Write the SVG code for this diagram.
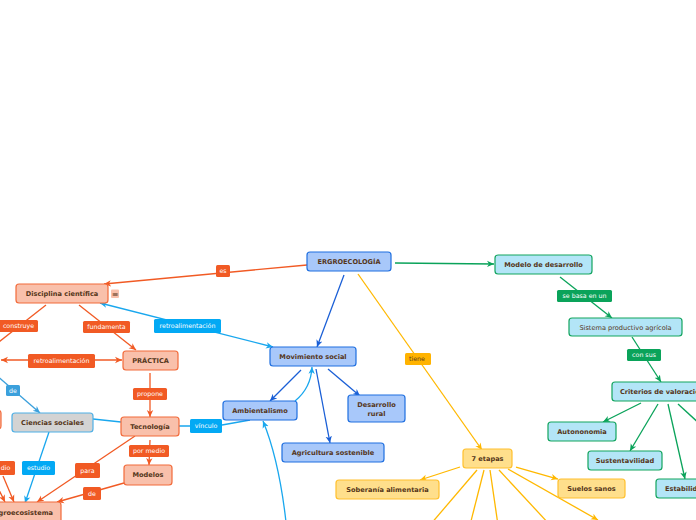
<svg xmlns="http://www.w3.org/2000/svg" width="696" height="520" viewBox="0 0 696 520">
<style>
.n{stroke-width:1.2}
.nt{font-family:"DejaVu Sans",Verdana,sans-serif;font-size:6.6px;font-weight:bold;fill:#55361a;text-anchor:middle}
.lt{font-family:"DejaVu Sans",Verdana,sans-serif;font-size:6.3px;fill:#fff;text-anchor:middle}
.blue{fill:#a8c8fa;stroke:#1f6fe0}
.sal{fill:#f9c0ab;stroke:#f26a3a}
.cyanN{fill:#b3e5f7;stroke:#13a55f}
.yel{fill:#ffdf8c;stroke:#ffc02e}
.gray{fill:#d3d3d3;stroke:#4fb0e6}
.c{fill:none;stroke-width:1.3}
.co{stroke:#f15a24}
.cb{stroke:#1a5fd6}
.cc{stroke:#19a7ee}
.cg{stroke:#0aa35a}
.cy{stroke:#ffb800}
</style>
<defs>
<marker id="ao" markerUnits="userSpaceOnUse" markerWidth="8" markerHeight="8" refX="7" refY="4" orient="auto-start-reverse"><path d="M0,0.8 L7,4 L0,7.2 L2,4 Z" fill="#f15a24"/></marker>
<marker id="ab" markerUnits="userSpaceOnUse" markerWidth="8" markerHeight="8" refX="7" refY="4" orient="auto-start-reverse"><path d="M0,0.8 L7,4 L0,7.2 L2,4 Z" fill="#1a5fd6"/></marker>
<marker id="ac" markerUnits="userSpaceOnUse" markerWidth="8" markerHeight="8" refX="7" refY="4" orient="auto-start-reverse"><path d="M0,0.8 L7,4 L0,7.2 L2,4 Z" fill="#19a7ee"/></marker>
<marker id="ag" markerUnits="userSpaceOnUse" markerWidth="8" markerHeight="8" refX="7" refY="4" orient="auto-start-reverse"><path d="M0,0.8 L7,4 L0,7.2 L2,4 Z" fill="#0aa35a"/></marker>
<marker id="ay" markerUnits="userSpaceOnUse" markerWidth="8" markerHeight="8" refX="7" refY="4" orient="auto-start-reverse"><path d="M0,0.8 L7,4 L0,7.2 L2,4 Z" fill="#ffb800"/></marker>
<marker id="ad" markerUnits="userSpaceOnUse" markerWidth="8" markerHeight="8" refX="7" refY="4" orient="auto-start-reverse"><path d="M0,0.8 L7,4 L0,7.2 L2,4 Z" fill="#3ba0dc"/></marker>
</defs>

<g id="connectors">
<path class="c co" d="M307,265 L104,284" marker-end="url(#ao)"/>
<path class="c cg" d="M395,263 L494,264" marker-end="url(#ag)"/>
<path class="c cg" d="M560,277 L612,318" marker-end="url(#ag)"/>
<path class="c cg" d="M632,337 L661,382" marker-end="url(#ag)"/>
<path class="c cg" d="M641,403 L603,422" marker-end="url(#ag)"/>
<path class="c cg" d="M658,404 L630,451" marker-end="url(#ag)"/>
<path class="c cg" d="M668,404 L685,479" marker-end="url(#ag)"/>
<path class="c cg" d="M678,404 L702,426"/>
<path class="c cy" d="M358,274 L482,450" marker-end="url(#ay)"/>
<path class="c cy" d="M460,467 L420,480" marker-end="url(#ay)"/>
<path class="c cy" d="M516,467 L558,479" marker-end="url(#ay)"/>
<path class="c cy" d="M477,470 L430,525"/>
<path class="c cy" d="M484,470 L470,525"/>
<path class="c cy" d="M490,470 L498,525"/>
<path class="c cy" d="M499,470 L550,525"/>
<path class="c cy" d="M508,469 L598,520" marker-end="url(#ay)"/>
<path class="c cb" d="M344,275 L317,347" marker-end="url(#ab)"/>
<path class="c cc" d="M100,303 L273,347" marker-start="url(#ac)" marker-end="url(#ac)"/>
<path class="c cb" d="M301,370 L270,401" marker-end="url(#ab)"/>
<path class="c cb" d="M328,369 L360,396" marker-end="url(#ab)"/>
<path class="c cb" d="M316,369 L330,443" marker-end="url(#ab)"/>
<path class="c cc" d="M295,401 Q311,388 312,367" marker-end="url(#ac)"/>
<path class="c cc" d="M286,522 Q279,460 263,421" marker-end="url(#ac)"/>
<path class="c cc" d="M179,426 L190,426 M222,425 L250,420"/>
<path class="c co" d="M79,305 L136,350" marker-end="url(#ao)"/>
<path class="c co" d="M46,305 L-5,345"/>
<path class="c co" d="M1,360 L122,360" marker-start="url(#ao)" marker-end="url(#ao)"/>
<path class="c co" d="M150,373 L150,417" marker-end="url(#ao)"/>
<path class="c co" d="M150,440 L149,465" marker-end="url(#ao)"/>
<path class="c co" d="M135,436 L37,502" marker-end="url(#ao)"/>
<path class="c co" d="M124,483 L57,502" marker-end="url(#ao)"/>
<path class="c cc" d="M93,419 L121,422"/>
<path class="c" stroke="#3ba0dc" d="M-5,374 L40,413" marker-end="url(#ad)"/>
<path class="c cc" d="M49,432 L25,503" marker-end="url(#ac)"/>
<path class="c co" d="M3,476 L14,502" marker-end="url(#ao)"/>
<path class="c co" d="M-5,482 L5,502" marker-end="url(#ao)"/>
</g>

<g id="labels">
<rect x="216" y="265" width="14" height="12" rx="1.5" fill="#f15a24"/><text class="lt" x="223" y="273.3">es</text>
<rect x="557" y="290" width="55" height="12" rx="1.5" fill="#0aa35a"/><text class="lt" x="584.5" y="298.3">se basa en un</text>
<rect x="627" y="349" width="34" height="12" rx="1.5" fill="#0aa35a"/><text class="lt" x="644" y="357.3">con sus</text>
<rect x="405" y="353" width="26" height="12" rx="1.5" fill="#ffb300"/><text class="lt" x="409" y="361.3" style="fill:#5a3a1c;text-anchor:start">tiene</text>
<rect x="154" y="319" width="67" height="14" rx="1.5" fill="#03a9f4"/><text class="lt" x="187.5" y="328.3">retroalimentación</text>
<rect x="190" y="419" width="32" height="14" rx="1.5" fill="#03a9f4"/><text class="lt" x="206" y="428.3">vínculo</text>
<rect x="83" y="321" width="47" height="12" rx="1.5" fill="#f15a24"/><text class="lt" x="106.5" y="329.3">fundamenta</text>
<rect x="-2" y="320" width="40" height="12" rx="1.5" fill="#f15a24"/><text class="lt" x="18.5" y="328.3">construye</text>
<rect x="28" y="354" width="67" height="14" rx="1.5" fill="#f15a24"/><text class="lt" x="61.5" y="363.3">retroalimentación</text>
<rect x="133" y="388" width="34" height="12" rx="1.5" fill="#f15a24"/><text class="lt" x="150" y="396.3">propone</text>
<rect x="129" y="445" width="40" height="12" rx="1.5" fill="#f15a24"/><text class="lt" x="149" y="453.3">por medio</text>
<rect x="75" y="463" width="25" height="15" rx="1.5" fill="#f15a24"/><text class="lt" x="87.5" y="472.8">para</text>
<rect x="83" y="487" width="18" height="13" rx="1.5" fill="#f15a24"/><text class="lt" x="92" y="495.8">de</text>
<rect x="6" y="385" width="14" height="11" rx="1.5" fill="#3ba0dc"/><text class="lt" x="13" y="392.8">de</text>
<rect x="22" y="461" width="33" height="14" rx="1.5" fill="#03a9f4"/><text class="lt" x="38.5" y="470.3">estudio</text>
<rect x="-20" y="461" width="35" height="14" rx="1.5" fill="#f15a24"/><text class="lt" x="5.5" y="470.3">dio</text>
</g>

<g id="ergroecologia"><rect class="n blue" x="307" y="252" width="84" height="19" rx="3"/><text class="nt" x="349" y="263.9">ERGROECOLOGÍA</text></g>
<g id="disciplina"><rect class="n sal" x="16" y="284" width="92" height="19" rx="3"/><text class="nt" x="62" y="295.9">Disciplina científica</text>
<rect x="111" y="289.5" width="8" height="8.5" rx="1" fill="#f9c0ab"/><text x="115" y="296.6" font-family="DejaVu Sans, sans-serif" font-size="8" fill="#55361a" text-anchor="middle">≡</text></g>
<g id="modelo-desarrollo"><rect class="n cyanN" x="495" y="255" width="97" height="19" rx="3"/><text class="nt" x="543.5" y="266.9">Modelo de desarrollo</text></g>
<g id="sistema"><rect class="n cyanN" x="569" y="318" width="113" height="18" rx="3"/><text class="nt" x="625.5" y="329.6" style="font-weight:normal">Sistema productivo agrícola</text></g>
<g id="criterios"><rect class="n cyanN" x="612" y="382" width="120" height="19" rx="3"/><text class="nt" x="620" y="393.9" style="text-anchor:start">Criterios de valoración</text></g>
<g id="autonomia"><rect class="n cyanN" x="548" y="422" width="68" height="19" rx="3"/><text class="nt" x="582" y="433.9">Autononomia</text></g>
<g id="sustentavilidad"><rect class="n cyanN" x="588" y="451" width="74" height="19" rx="3"/><text class="nt" x="625" y="462.9">Sustentavilidad</text></g>
<g id="estabilidad"><rect class="n cyanN" x="656" y="479" width="62" height="19" rx="3"/><text class="nt" x="665" y="490.9" style="text-anchor:start">Estabilidad</text></g>
<g id="movimiento"><rect class="n blue" x="270" y="347" width="86" height="19" rx="3"/><text class="nt" x="313" y="358.9">Movimiento social</text></g>
<g id="ambientalismo"><rect class="n blue" x="223" y="401" width="74" height="19" rx="3"/><text class="nt" x="260" y="412.9">Ambientalismo</text></g>
<g id="desarrollo-rural"><rect class="n blue" x="348" y="395" width="57" height="27" rx="3"/><text class="nt" x="376.5" y="406.6">Desarrollo</text><text class="nt" x="376.5" y="415.6">rural</text></g>
<g id="agricultura"><rect class="n blue" x="282" y="443" width="102" height="19" rx="3"/><text class="nt" x="333" y="454.9">Agricultura sostenible</text></g>
<g id="etapas"><rect class="n yel" x="463" y="449" width="49" height="19" rx="3"/><text class="nt" x="487.5" y="460.9">7 etapas</text></g>
<g id="soberania"><rect class="n yel" x="336" y="480" width="103" height="19" rx="3"/><text class="nt" x="387.5" y="491.9">Soberanía alimentaria</text></g>
<g id="suelos"><rect class="n yel" x="558" y="479" width="67" height="19" rx="3"/><text class="nt" x="591.5" y="490.9">Suelos sanos</text></g>
<g id="practica"><rect class="n sal" x="123" y="351" width="55" height="19" rx="3"/><text class="nt" x="150.5" y="362.9">PRÁCTICA</text></g>
<g id="tecnologia"><rect class="n sal" x="121" y="417" width="58" height="19" rx="3"/><text class="nt" x="150" y="428.9">Tecnología</text></g>
<g id="modelos"><rect class="n sal" x="124" y="465" width="48" height="20" rx="3"/><text class="nt" x="148" y="477.4">Modelos</text></g>
<g id="ciencias"><rect class="n gray" x="12" y="413" width="81" height="19" rx="3"/><text class="nt" x="52.5" y="424.9">Ciencias sociales</text></g>
<g id="agroecosistema"><rect class="n sal" x="-28" y="502" width="89" height="22" rx="3"/><text class="nt" x="53" y="514.6" style="text-anchor:end">Agroecosistema</text></g>
<g id="left-node"><rect class="n sal" x="-40" y="410" width="41" height="19" rx="3"/></g>
</svg>
